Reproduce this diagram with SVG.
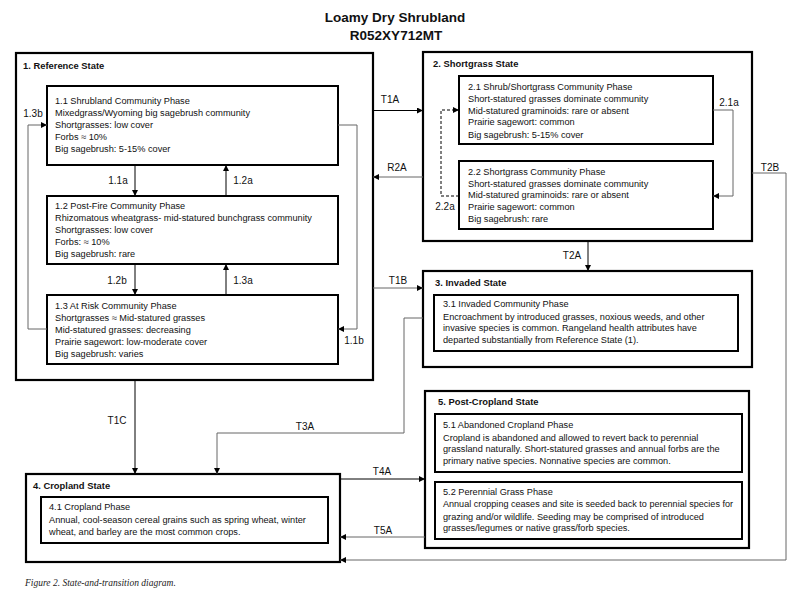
<svg xmlns="http://www.w3.org/2000/svg" width="800" height="600" viewBox="0 0 800 600">
<style>
text{font-family:"Liberation Sans",Arial,sans-serif;fill:#111}
.title{font-size:13.5px;font-weight:bold;text-anchor:middle}
.st{font-size:9.4px;font-weight:bold}
.b{font-size:9.2px}
.lbl{font-size:10px;text-anchor:middle}
.outer{fill:#fff;stroke:#000;stroke-width:2.2}
.inner{fill:#fff;stroke:#000;stroke-width:2}
.c{fill:none;stroke:#000;stroke-width:1}
.g{fill:none;stroke:#666;stroke-width:1}
.d{fill:none;stroke:#000;stroke-width:1;stroke-dasharray:3,2}
.cap{font-family:"Liberation Serif","Times New Roman",serif;font-style:italic;font-size:9.5px;fill:#222}
</style>
<defs>
<marker id="a" viewBox="0 0 6 6" refX="6" refY="3" markerWidth="6" markerHeight="6" markerUnits="userSpaceOnUse" orient="auto"><path d="M0,0 L6,3 L0,6 Z" fill="#000"/></marker>
</defs>
<rect width="800" height="600" fill="#fff"/>
<text class="title" x="395" y="22">Loamy Dry Shrubland</text>
<text class="title" x="396" y="40">R052XY712MT</text>

<g id="state1">
<rect class="outer" x="16" y="53" width="357" height="327"/>
<text class="st" x="23" y="69">1. Reference State</text>
</g>
<g id="state2">
<rect class="outer" x="423" y="52" width="329" height="189"/>
<text class="st" x="433" y="67">2. Shortgrass State</text>
</g>
<g id="state3">
<rect class="outer" x="423" y="271" width="329" height="96"/>
<text class="st" x="435" y="286">3. Invaded  State</text>
</g>
<g id="state4">
<rect class="outer" x="26" y="474" width="314" height="88"/>
<text class="st" x="33" y="489">4. Cropland State</text>
</g>
<g id="state5">
<rect class="outer" x="425" y="391" width="324" height="157"/>
<text class="st" x="438" y="405">5. Post-Cropland  State</text>
</g>

<g id="p11">
<rect class="inner" x="47" y="86" width="291" height="79"/>
<text class="b" x="55" y="104">1.1 Shrubland Community Phase</text>
<text class="b" x="55" y="116">Mixedgrass/Wyoming big sagebrush community</text>
<text class="b" x="55" y="128">Shortgrasses: low cover</text>
<text class="b" x="55" y="140">Forbs ≈ 10%</text>
<text class="b" x="55" y="152">Big sagebrush: 5-15% cover</text>
</g>
<g id="p12">
<rect class="inner" x="47" y="196" width="291" height="68"/>
<text class="b" x="55" y="209">1.2 Post-Fire Community Phase</text>
<text class="b" x="55" y="221">Rhizomatous wheatgrass- mid-statured bunchgrass community</text>
<text class="b" x="55" y="233">Shortgrasses: low cover</text>
<text class="b" x="55" y="245">Forbs: ≈ 10%</text>
<text class="b" x="55" y="257">Big sagebrush: rare</text>
</g>
<g id="p13">
<rect class="inner" x="47" y="295" width="291" height="69"/>
<text class="b" x="55" y="309">1.3 At Risk Community Phase</text>
<text class="b" x="55" y="321">Shortgrasses ≈ Mid-statured grasses</text>
<text class="b" x="55" y="333">Mid-statured grasses: decreasing</text>
<text class="b" x="55" y="345">Prairie sagewort: low-moderate cover</text>
<text class="b" x="55" y="357">Big sagebrush: varies</text>
</g>
<g id="p21">
<rect class="inner" x="459" y="76" width="254" height="68"/>
<text class="b" x="468" y="90">2.1 Shrub/Shortgrass Community Phase</text>
<text class="b" x="468" y="102">Short-statured grasses dominate community</text>
<text class="b" x="468" y="113.5">Mid-statured graminoids: rare or absent</text>
<text class="b" x="468" y="125">Prairie sagewort: common</text>
<text class="b" x="468" y="137.5">Big sagebrush: 5-15% cover</text>
</g>
<g id="p22">
<rect class="inner" x="459" y="161" width="254" height="68"/>
<text class="b" x="468" y="175">2.2 Shortgrass Community Phase</text>
<text class="b" x="468" y="186.5">Short-statured grasses dominate community</text>
<text class="b" x="468" y="198">Mid-statured graminoids: rare or absent</text>
<text class="b" x="468" y="210">Prairie sagewort: common</text>
<text class="b" x="468" y="222">Big sagebrush: rare</text>
</g>
<g id="p31">
<rect class="inner" x="434" y="295" width="304" height="56"/>
<text class="b" x="443" y="307">3.1 Invaded Community Phase</text>
<text class="b" x="443" y="319.5">Encroachment by introduced grasses, noxious weeds, and other</text>
<text class="b" x="443" y="331">invasive species is common. Rangeland health attributes have</text>
<text class="b" x="443" y="343">departed substantially from Reference State (1).</text>
</g>
<g id="p41">
<rect class="inner" x="41" y="497" width="287" height="46"/>
<text class="b" x="49" y="510">4.1 Cropland Phase</text>
<text class="b" x="49" y="523">Annual, cool-season cereal grains such as spring wheat, winter</text>
<text class="b" x="49" y="535">wheat, and barley are the most common crops.</text>
</g>
<g id="p51">
<rect class="inner" x="435" y="414" width="307" height="58"/>
<text class="b" x="443" y="428">5.1 Abandoned Cropland Phase</text>
<text class="b" x="443" y="441">Cropland is abandoned and allowed to revert back to perennial</text>
<text class="b" x="443" y="452">grassland naturally. Short-statured grasses and annual forbs are the</text>
<text class="b" x="443" y="464">primary native species. Nonnative species are common.</text>
</g>
<g id="p52">
<rect class="inner" x="435" y="482" width="307" height="57"/>
<text class="b" x="443" y="495">5.2 Perennial Grass Phase</text>
<text class="b" x="443" y="507" textLength="290" lengthAdjust="spacingAndGlyphs">Annual cropping ceases and site is seeded back to perennial species for</text>
<text class="b" x="443" y="519.5">grazing and/or wildlife. Seeding may be comprised of introduced</text>
<text class="b" x="443" y="530.5">grasses/legumes or native grass/forb species.</text>
</g>

<g id="connectors">
<path class="c" d="M135,165 V196" marker-end="url(#a)"/>
<path class="c" d="M226,196 V165" marker-end="url(#a)"/>
<path class="c" d="M135,264 V295" marker-end="url(#a)"/>
<path class="c" d="M226,295 V264" marker-end="url(#a)"/>
<path class="g" d="M47,329 H28 V125 H47" marker-end="url(#a)"/>
<path class="g" d="M338,125 H357 V329 H338" marker-end="url(#a)"/>
<path class="g" d="M713,110 H733 V196 H713" marker-end="url(#a)"/>
<path class="d" d="M459,196 H441 V110 H459" marker-end="url(#a)"/>
<path class="c" d="M373,110.5 H423" marker-end="url(#a)"/>
<path class="g" d="M423,177 H373" marker-end="url(#a)"/>
<path class="g" d="M373,288 H423" marker-end="url(#a)"/>
<path class="c" d="M588,241 V271" marker-end="url(#a)"/>
<path class="g" d="M752,173 H786 V560 H340" marker-end="url(#a)"/>
<path class="c" d="M135,380 V474" marker-end="url(#a)"/>
<path class="g" d="M423,318 H404 V433 H217 V474" marker-end="url(#a)"/>
<path class="c" d="M340,479 H425" marker-end="url(#a)"/>
<path class="g" d="M425,537 H340" marker-end="url(#a)"/>
<text class="lbl" x="118" y="184">1.1a</text>
<text class="lbl" x="243" y="184">1.2a</text>
<text class="lbl" x="117" y="284">1.2b</text>
<text class="lbl" x="243" y="284">1.3a</text>
<text class="lbl" x="33" y="117">1.3b</text>
<text class="lbl" x="354" y="344">1.1b</text>
<text class="lbl" x="729" y="106">2.1a</text>
<text class="lbl" x="445" y="210">2.2a</text>
<text class="lbl" x="390" y="103">T1A</text>
<text class="lbl" x="397" y="171">R2A</text>
<text class="lbl" x="770" y="171">T2B</text>
<text class="lbl" x="398" y="284">T1B</text>
<text class="lbl" x="572" y="259">T2A</text>
<text class="lbl" x="117" y="424">T1C</text>
<text class="lbl" x="305" y="430">T3A</text>
<text class="lbl" x="382" y="475">T4A</text>
<text class="lbl" x="383" y="534">T5A</text>
</g>
<text class="cap" x="25" y="586">Figure 2. State-and-transition diagram.</text>
</svg>
